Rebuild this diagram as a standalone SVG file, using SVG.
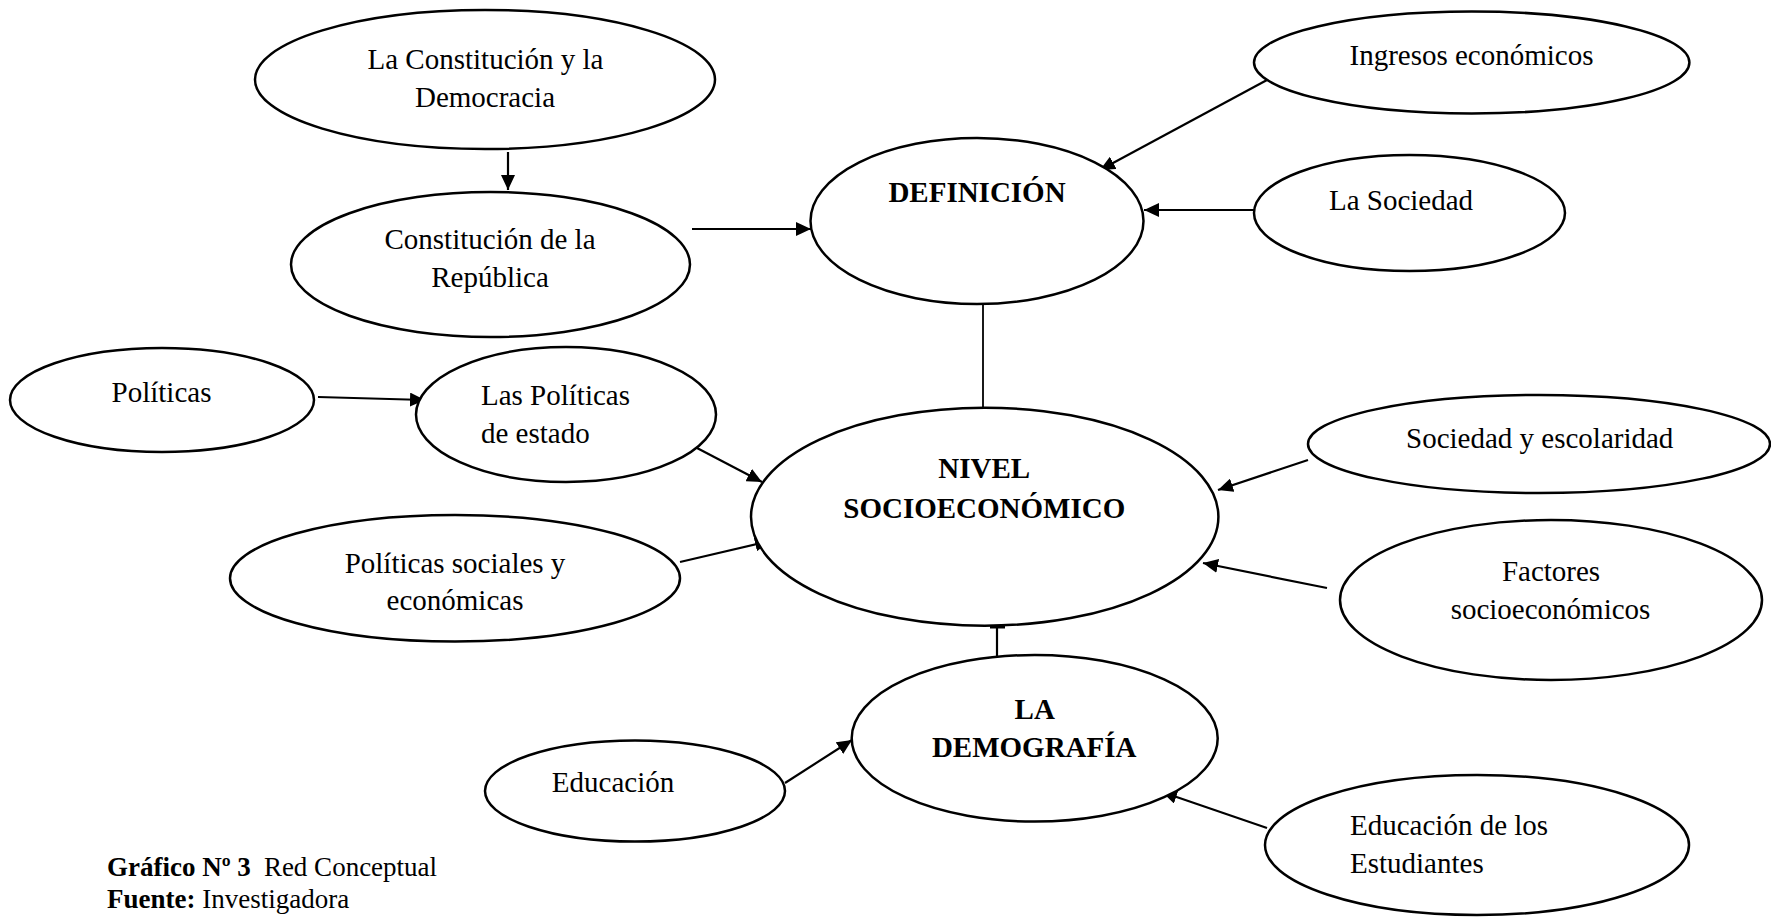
<svg xmlns="http://www.w3.org/2000/svg" width="1771" height="917" viewBox="0 0 1771 917">
<style>
.n{fill:#fff;stroke:#000;stroke-width:2.5}
.t{font-family:"Liberation Serif","Times New Roman",serif;font-size:29px;fill:#000;text-anchor:middle}
.l{text-anchor:start}
.b{font-weight:bold}
.c{stroke:#000;stroke-width:2.2;fill:none}
.a{marker-end:url(#ah)}
.cap{font-family:"Liberation Serif","Times New Roman",serif;font-size:27px;fill:#000}
</style>
<defs>
<marker id="ah" markerUnits="userSpaceOnUse" markerWidth="16" markerHeight="14" refX="15" refY="7" orient="auto">
<path d="M0,0 L15,7 L0,14 z" fill="#000"/>
</marker>
</defs>
<rect width="1771" height="917" fill="#fff"/>
<g id="connectors">
<line class="c a" x1="508" y1="152" x2="508" y2="190"/>
<line class="c a" x1="692" y1="229" x2="811" y2="229"/>
<line class="c a" x1="1267" y1="80" x2="1100" y2="170"/>
<line class="c a" x1="1255" y1="210" x2="1144" y2="210"/>
<line class="c" x1="983" y1="304" x2="983" y2="408" style="stroke-width:1.8"/>
<line class="c a" x1="318" y1="397" x2="425" y2="400"/>
<line class="c a" x1="697" y1="448" x2="762" y2="482"/>
<line class="c a" x1="680" y1="562" x2="770" y2="541"/>
<line class="c a" x1="1308" y1="460" x2="1218" y2="490"/>
<line class="c a" x1="1327" y1="588" x2="1203" y2="563"/>
<line class="c" x1="997" y1="626" x2="997" y2="656"/>
<line class="c" x1="990" y1="627" x2="1005" y2="627" style="stroke-width:3"/>
<line class="c a" x1="785" y1="783" x2="852" y2="740"/>
<line class="c a" x1="1267" y1="828" x2="1162" y2="792"/>
</g>
<g id="n-constitucion-democracia">
<ellipse class="n" cx="485" cy="79.5" rx="230" ry="69.5"/>
<text class="t" x="485.5" y="69">La Constitución y la</text>
<text class="t" x="485" y="107">Democracia</text>
</g>
<g id="n-constitucion-republica">
<ellipse class="n" cx="490.5" cy="264.5" rx="199.5" ry="72.5"/>
<text class="t" x="490" y="249">Constitución de la</text>
<text class="t" x="490" y="287">República</text>
</g>
<g id="n-definicion">
<ellipse class="n" cx="977" cy="221" rx="166.5" ry="83"/>
<text class="t b" x="977" y="202">DEFINICIÓN</text>
</g>
<g id="n-ingresos">
<ellipse class="n" cx="1471.7" cy="62.5" rx="217.7" ry="51"/>
<text class="t" x="1471.5" y="65">Ingresos económicos</text>
</g>
<g id="n-la-sociedad">
<ellipse class="n" cx="1409.5" cy="213" rx="155.5" ry="58"/>
<text class="t" x="1401" y="210">La Sociedad</text>
</g>
<g id="n-politicas">
<ellipse class="n" cx="162" cy="400" rx="152" ry="52"/>
<text class="t" x="161.5" y="402">Políticas</text>
</g>
<g id="n-politicas-estado">
<ellipse class="n" cx="566" cy="414.5" rx="150" ry="67.5"/>
<text class="t l" x="481" y="405">Las Políticas</text>
<text class="t l" x="481" y="443">de estado</text>
</g>
<g id="n-nivel">
<ellipse class="n" cx="984.7" cy="516.7" rx="233.7" ry="109"/>
<text class="t b" x="984.3" y="478">NIVEL</text>
<text class="t b" x="984.3" y="518">SOCIOECONÓMICO</text>
</g>
<g id="n-politicas-sociales">
<ellipse class="n" cx="455" cy="578.3" rx="225" ry="63.3"/>
<text class="t" x="455" y="573">Políticas sociales y</text>
<text class="t" x="455" y="610">económicas</text>
</g>
<g id="n-sociedad-escolaridad">
<ellipse class="n" cx="1539" cy="444" rx="231" ry="49"/>
<text class="t" x="1539.7" y="448">Sociedad y escolaridad</text>
</g>
<g id="n-factores">
<ellipse class="n" cx="1551" cy="600" rx="211" ry="80"/>
<text class="t" x="1551" y="581">Factores</text>
<text class="t" x="1550.5" y="619">socioeconómicos</text>
</g>
<g id="n-demografia">
<ellipse class="n" cx="1034.7" cy="738.3" rx="183" ry="83.3"/>
<text class="t b" x="1034.7" y="719">LA</text>
<text class="t b" x="1034.2" y="757">DEMOGRAFÍA</text>
</g>
<g id="n-educacion">
<ellipse class="n" cx="635" cy="791" rx="150" ry="50.5"/>
<text class="t" x="613" y="792">Educación</text>
</g>
<g id="n-educacion-estudiantes">
<ellipse class="n" cx="1477" cy="845" rx="212" ry="70"/>
<text class="t l" x="1350" y="835">Educación de los</text>
<text class="t l" x="1350" y="872.5">Estudiantes</text>
</g>
<g id="caption">
<text class="cap" x="107" y="876"><tspan font-weight="bold">Gráfico Nº 3</tspan><tspan dx="13">Red Conceptual</tspan></text>
<text class="cap" x="107" y="908"><tspan font-weight="bold">Fuente:</tspan> Investigadora</text>
</g>
</svg>
